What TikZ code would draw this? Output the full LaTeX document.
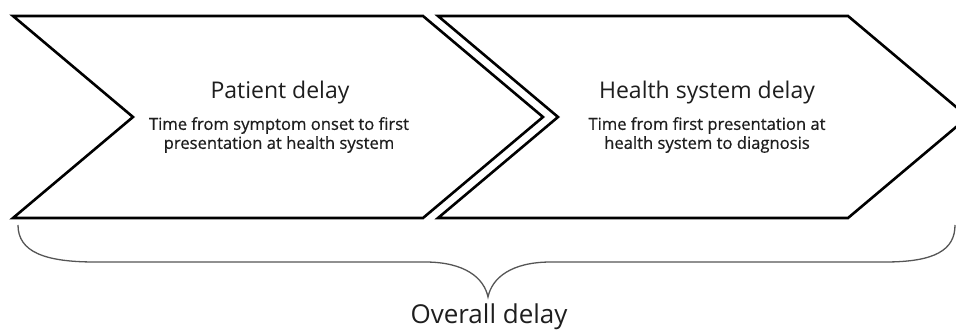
\documentclass[tikz,border=0pt]{standalone}
\usepackage{fontspec}
\setmainfont{Open Sans}
\newfontfamily\subfont[FakeBold=0.6]{Open Sans}
\definecolor{txt}{HTML}{1E1E1E}
\definecolor{bracecol}{HTML}{555555}
\tikzset{
  chev/.style={draw=black, line width=2.6pt, line join=miter, fill=white},
  title/.style={text=txt, font=\fontsize{23}{26}\selectfont, inner sep=0pt, anchor=center},
  sub/.style={text=txt, font=\subfont\fontsize{16.6}{19}\selectfont, align=center, inner sep=0pt, anchor=center},
  bracestyle/.style={draw=bracecol, line width=1.3pt}
}
\begin{document}
\begin{tikzpicture}[x=1pt,y=-1pt]
\useasboundingbox (0,0) rectangle (956,331);
\clip (0,0) rectangle (956,331);
% chevrons
\draw[chev] (13,16) -- (423,16) -- (543,117) -- (423,218) -- (13,218) -- (133,117) -- cycle;
\draw[chev] (438,16) -- (848,16) -- (968,117) -- (848,218) -- (438,218) -- (558,117) -- cycle;
% texts
\node[title] (pd) at (280,93) {Patient delay};
\node[sub] (pdt) at (279,135) {Time from symptom onset to first\\presentation at health system};
\node[title] (hd) at (707,93) {Health system delay};
\node[sub] (hdt) at (707,135) {Time from first presentation at\\health system to diagnosis};
% brace
\coordinate (bl) at (18,225);
\coordinate (bt) at (488,297);
\coordinate (br) at (955,225);
\draw[bracestyle] (bl) .. controls (18,252) and (45,262) .. (95,262) -- (425,262)
  .. controls (465,262) and (484,278) .. (bt)
  .. controls (492,278) and (511,262) .. (551,262) -- (885,262)
  .. controls (935,262) and (955,250) .. (br);
\node[text=txt, font=\fontsize{26}{30}\selectfont, inner sep=0pt] (od) at (489,317) {Overall delay};
\end{tikzpicture}
\end{document}
